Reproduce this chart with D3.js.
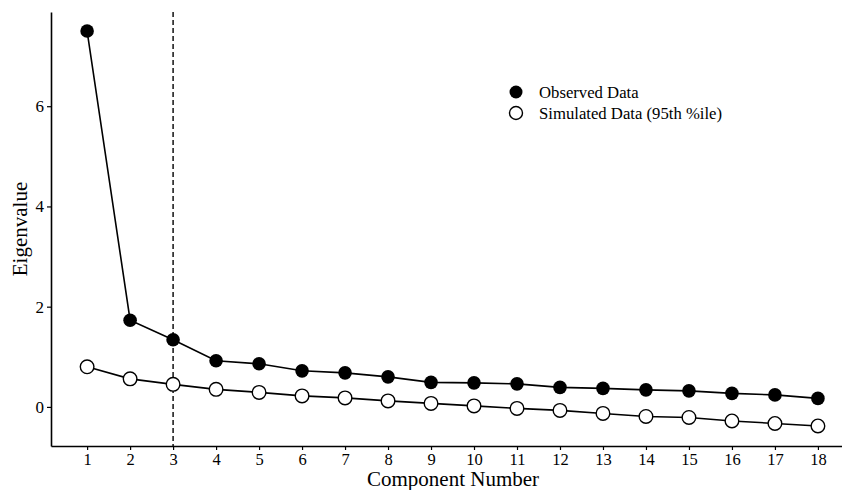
<!DOCTYPE html>
<html>
<head>
<meta charset="utf-8">
<script src="https://cdn.jsdelivr.net/npm/d3@7"></script>
<style>
body { margin: 0; background: #fff; }
svg text { font-family: "Liberation Serif", "Times New Roman", serif; fill: #000; }
</style>
</head>
<body>
<div id="chart"></div>
<script>
var width = 842;
var height = 490;

// component numbers and eigenvalues
var components = [1,2,3,4,5,6,7,8,9,10,11,12,13,14,15,16,17,18];
var observed = [7.50,1.73,1.34,0.92,0.86,0.72,0.68,0.60,0.49,0.48,0.46,0.39,0.37,0.34,0.32,0.27,0.24,0.17];
var simulated = [0.80,0.56,0.45,0.35,0.29,0.22,0.18,0.12,0.07,0.02,-0.03,-0.07,-0.13,-0.19,-0.21,-0.28,-0.33,-0.38];
var yTicks = [0,2,4,6];
var cutoff = 3;
var legendLabels = ["Observed Data", "Simulated Data (95th %ile)"];

var margin = {left: 51, top: 12, right: 0, bottom: 44};

var svg = d3.select("#chart").append("svg")
  .attr("width", width)
  .attr("height", height);

var x = d3.scaleLinear()
  .domain([0.16, 18.56])
  .range([margin.left, width - margin.right]);

var y = d3.scaleLinear()
  .domain([-0.78, 7.88])
  .range([height - margin.bottom, margin.top]);

// axes
var xAxis = svg.append("g")
  .attr("transform", "translate(0," + (height - margin.bottom) + ")")
  .call(d3.axisBottom(x).tickValues(components).tickSizeInner(4).tickSizeOuter(0)
    .tickPadding(3).tickFormat(d3.format("d")));
xAxis.select(".domain").attr("stroke-width", 1.6);
xAxis.selectAll(".tick line").attr("stroke-width", 1.2);
xAxis.selectAll("text").attr("font-size", 16.5).attr("font-family", "Liberation Serif, serif");

var yAxis = svg.append("g")
  .attr("transform", "translate(" + margin.left + ",0)")
  .call(d3.axisLeft(y).tickValues(yTicks).tickSizeInner(4).tickSizeOuter(0).tickPadding(3));
yAxis.select(".domain").attr("stroke-width", 1.6);
yAxis.selectAll(".tick line").attr("stroke-width", 1.2);
yAxis.selectAll("text").attr("font-size", 17).attr("font-family", "Liberation Serif, serif");

// axis titles
svg.append("text")
  .attr("x", 453)
  .attr("y", 485.5)
  .attr("text-anchor", "middle")
  .attr("font-size", 21)
  .text("Component Number");

svg.append("text")
  .attr("transform", "translate(27," + 229 + ") rotate(-90)")
  .attr("text-anchor", "middle")
  .attr("font-size", 21)
  .text("Eigenvalue");

// dashed line at the retained components
svg.append("line")
  .attr("x1", x(cutoff)).attr("x2", x(cutoff))
  .attr("y1", y.range()[1]).attr("y2", y.range()[0])
  .attr("stroke", "#000")
  .attr("stroke-width", 1.4)
  .attr("stroke-dasharray", "5,3");

var line = d3.line()
  .x(function(d, i) { return x(components[i]); })
  .y(function(d) { return y(d); });

svg.append("path").datum(simulated)
  .attr("d", line).attr("fill", "none").attr("stroke", "#000").attr("stroke-width", 1.6);
svg.append("path").datum(observed)
  .attr("d", line).attr("fill", "none").attr("stroke", "#000").attr("stroke-width", 1.6);

svg.selectAll("circle.sim")
  .data(simulated)
  .enter().append("circle")
  .attr("class", "sim")
  .attr("cx", function(d, i) { return x(components[i]); })
  .attr("cy", function(d) { return y(d); })
  .attr("r", 6.8)
  .attr("fill", "#fff")
  .attr("stroke", "#000")
  .attr("stroke-width", 1.4);

svg.selectAll("circle.obs")
  .data(observed)
  .enter().append("circle")
  .attr("class", "obs")
  .attr("cx", function(d, i) { return x(components[i]); })
  .attr("cy", function(d) { return y(d); })
  .attr("r", 6.8)
  .attr("fill", "#000");

// legend
var legend = svg.append("g").attr("transform", "translate(516,92)");
legendLabels.forEach(function(lab, i) {
  var row = legend.append("g").attr("transform", "translate(0," + (i * 21) + ")");
  row.append("circle")
    .attr("r", 6.5)
    .attr("fill", i == 0 ? "#000" : "#fff")
    .attr("stroke", "#000")
    .attr("stroke-width", i == 0 ? 0 : 1.4);
  row.append("text")
    .attr("x", 23)
    .attr("y", 5.8)
    .attr("font-size", 16.7)
    .text(lab);
});
</script>
</body>
</html>
